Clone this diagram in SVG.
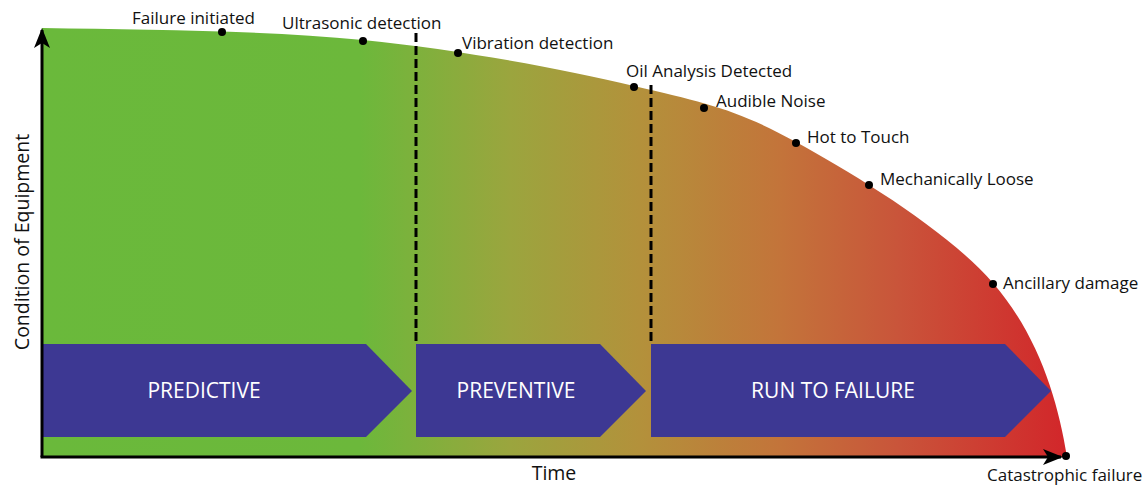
<svg xmlns="http://www.w3.org/2000/svg" width="1148" height="486" viewBox="0 0 1148 486">
<defs>
<linearGradient id="heat" gradientUnits="userSpaceOnUse" x1="42" y1="0" x2="1067" y2="0">
<stop offset="0" stop-color="#6ab93b"/>
<stop offset="0.31" stop-color="#6cb83b"/>
<stop offset="0.457" stop-color="#9ba53e"/>
<stop offset="0.583" stop-color="#b3913b"/>
<stop offset="0.72" stop-color="#c3743a"/>
<stop offset="0.837" stop-color="#c9543a"/>
<stop offset="1" stop-color="#d2262a"/>
</linearGradient>
<marker id="ah" viewBox="0 0 20 16" refX="18" refY="8" markerWidth="20" markerHeight="16" markerUnits="userSpaceOnUse" orient="auto">
<path d="M0,0 L20,8 L0,16 L5,8 Z" fill="#000"/>
</marker>
<style>
.lbl{font-family:"Open Sans","Liberation Sans",sans-serif;font-size:17px;fill:#111}
.axl{font-family:"Open Sans","Liberation Sans",sans-serif;font-size:19.5px;fill:#111}
.ph{font-family:"Open Sans","Liberation Sans",sans-serif;font-size:21px;fill:#fff;text-anchor:middle}
.band{fill:#3d3893}
.dot{fill:#000}
.dash{stroke:#000;stroke-width:3;stroke-dasharray:9,4;fill:none}
.axis{stroke:#000;stroke-width:3;fill:none}
</style>
</defs>
<g id="area">
<path d="M42,457 L42,28 C149,30 264,30 363,40 C462,50 562,69 634,86 C706,103 736,109 796,142 C856,175 948,231 993,283 C1038,335 1058,400 1067,457 Z" fill="url(#heat)"/>
</g>
<g id="phases">
<g id="predictive"><path class="band" d="M42,344 L366,344 L412,391 L366,437 L42,437 Z"/><text class="ph" x="204" y="398">PREDICTIVE</text></g>
<g id="preventive"><path class="band" d="M416,344 L600,344 L646,391 L600,437 L416,437 Z"/><text class="ph" x="516" y="398">PREVENTIVE</text></g>
<g id="runtofailure"><path class="band" d="M651,344 L1005,344 L1051,391 L1005,437 L651,437 Z"/><text class="ph" x="833" y="398">RUN TO FAILURE</text></g>
</g>
<g id="connectors">
<line class="dash" x1="416" y1="33" x2="416" y2="344"/>
<line class="dash" x1="651" y1="85" x2="651" y2="344"/>
<line class="axis" x1="42" y1="457" x2="42" y2="30" marker-end="url(#ah)"/>
<line class="axis" x1="40.5" y1="457" x2="1061" y2="457" marker-end="url(#ah)"/>
</g>
<g id="events">
<g id="e1"><circle class="dot" cx="222" cy="32" r="4"/><text class="lbl" x="132" y="24">Failure initiated</text></g>
<g id="e2"><circle class="dot" cx="363" cy="41" r="4"/><text class="lbl" x="282" y="29">Ultrasonic detection</text></g>
<g id="e3"><circle class="dot" cx="458" cy="53" r="4"/><text class="lbl" x="462" y="49">Vibration detection</text></g>
<g id="e4"><circle class="dot" cx="634" cy="87" r="4"/><text class="lbl" x="626" y="77">Oil Analysis Detected</text></g>
<g id="e5"><circle class="dot" cx="704" cy="108" r="4"/><text class="lbl" x="716" y="107">Audible Noise</text></g>
<g id="e6"><circle class="dot" cx="796" cy="143" r="4"/><text class="lbl" x="807" y="143">Hot to Touch</text></g>
<g id="e7"><circle class="dot" cx="869" cy="185" r="4"/><text class="lbl" x="880" y="185">Mechanically Loose</text></g>
<g id="e8"><circle class="dot" cx="993" cy="284" r="4"/><text class="lbl" x="1003" y="289">Ancillary damage</text></g>
<g id="e9"><circle class="dot" cx="1066" cy="456" r="4"/><text class="lbl" x="987" y="481">Catastrophic failure</text></g>
</g>
<g id="axis-labels">
<text class="axl" x="554" y="480" text-anchor="middle">Time</text>
<text class="axl" x="0" y="0" text-anchor="middle" transform="translate(29,242) rotate(-90)">Condition of Equipment</text>
</g>
</svg>
